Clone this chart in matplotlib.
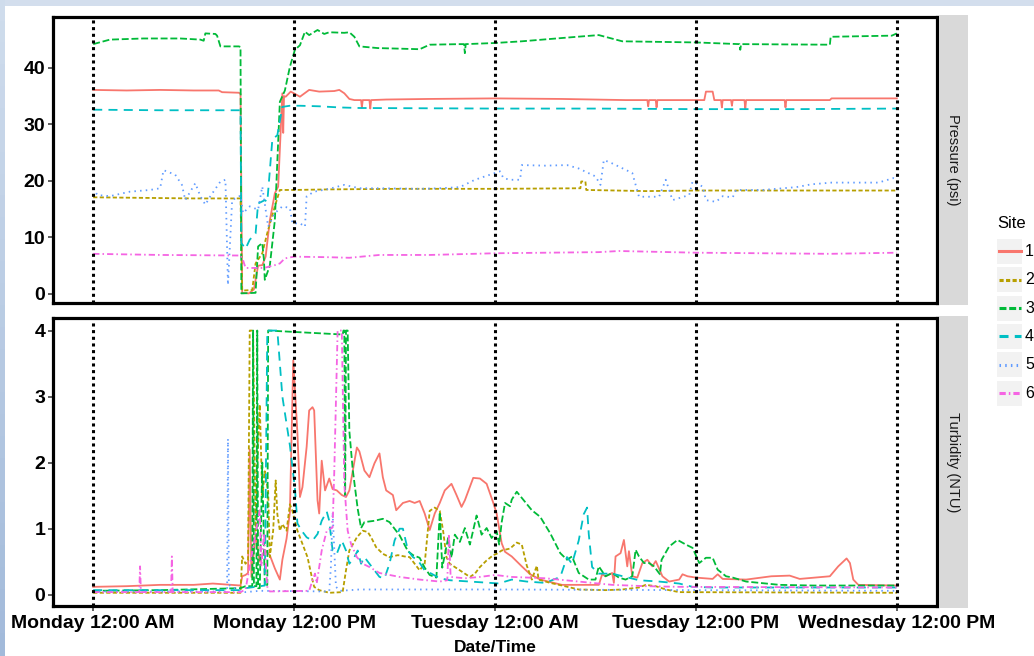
import matplotlib
matplotlib.use('Agg')
import matplotlib.pyplot as plt
from matplotlib.patches import Rectangle
from matplotlib.lines import Line2D

plt.rcParams['font.family'] = ['Liberation Sans', 'DejaVu Sans']
plt.rcParams['lines.scale_dashes'] = False

# ---------------- data (hours since Monday 12:00 AM) ----------------
sites = ['1', '2', '3', '4', '5', '6']
tick_hours = [0, 12, 24, 36, 48]
tick_labels = ['Monday 12:00 AM', 'Monday 12:00 PM', 'Tuesday 12:00 AM',
               'Tuesday 12:00 PM', 'Wednesday 12:00 PM']
pressure_ticks = [0, 10, 20, 30, 40]
turbidity_ticks = [0, 1, 2, 3, 4]

# Pressure (psi)
p1_t = [0, 2, 4, 6, 7.5, 7.7, 8.7, 8.8, 8.9, 9.3, 9.6, 9.85, 10.1, 10.3, 10.55,
        10.85, 11.05, 11.3, 11.35, 11.4, 11.5, 11.8, 12.35, 12.9, 13.5, 14.4, 14.7,
        15.0, 15.3, 15.6, 16.0, 16.05, 16.1, 16.5, 16.55, 16.6, 17.5, 20, 24, 28,
        31.8, 33.1, 33.15, 33.2, 33.6, 33.65, 33.7, 36.5, 36.6, 37.0, 37.1, 37.5,
        37.55, 37.6, 38.1, 38.15, 38.2, 38.9, 38.95, 39.0, 41.3, 41.35, 41.4, 44.0,
        44.1, 48]
p1_v = [36.1, 36.0, 36.1, 36.0, 36.0, 35.7, 35.6, 35.4, 0.2, 0.1, 0.8, 5.0, 5.1, 6.6, 13.0,
        17.8, 19.0, 35.5, 28.5, 35.0, 34.9, 35.8, 34.9, 36.1, 35.8, 35.9, 36.1,
        35.5, 34.5, 34.3, 34.3, 33.0, 34.3, 34.3, 32.8, 34.3, 34.4, 34.5, 34.6, 34.5,
        34.3, 34.3, 33.2, 34.3, 34.3, 33.0, 34.3, 34.3, 35.8, 35.8, 34.3, 34.3,
        33.0, 34.3, 34.3, 33.3, 34.3, 34.3, 32.8, 34.3, 34.3, 33.0, 34.3, 34.3,
        34.6, 34.6]

p2_t = [0, 3, 6, 8.8, 8.9, 9.5, 9.7, 10.1, 10.4, 10.85, 11.15, 12, 14.1, 18.3, 24,
        29.1, 29.15, 29.4, 29.45, 33.0, 36, 42, 48]
p2_v = [17.1, 17.0, 16.9, 16.9, 0.6, 0.7, 5.4, 7.2, 10.8, 15.5, 18.4, 18.4, 18.5, 18.6, 18.6,
        18.7, 19.9, 19.9, 18.4, 18.2, 18.3, 18.3, 18.3]

p3_t = [0, 0.5, 1.0, 3.0, 5.2, 6.4, 6.6, 6.7, 7.3, 7.4, 7.6, 8.7, 8.8, 8.85, 9.7,
        9.85, 10.1, 10.2, 10.25, 10.55, 10.85, 11.15, 11.45, 11.75, 12.05, 12.35,
        12.65, 12.9, 13.4, 13.8, 14.1, 15.0, 15.3, 15.6, 15.9, 17.0, 18.3, 19.5,
        20.1, 21.9, 22.15, 22.2, 22.25, 24.0, 25.6, 28.9, 30.2, 31.6, 36.0, 38.6,
        38.65, 38.7, 44.0, 44.05, 47.7, 48.0]
p3_v = [44.2, 44.6, 45.0, 45.2, 45.2, 45.0, 44.8, 46.1, 46.0, 45.7, 43.8, 43.8, 43.7, 0.1, 0.2,
        8.4, 9.0, 6.0, 2.5, 5.0, 13.0, 34.0, 36.0, 40.2, 43.2, 44.0,
        46.4, 45.8, 46.7, 46.0, 46.3, 46.2, 46.3, 45.5, 43.8, 43.5, 43.4, 43.3,
        44.1, 44.2, 44.2, 42.6, 44.2, 44.4, 44.7, 45.5, 45.8, 44.7, 44.5, 44.2,
        43.2, 44.2, 44.1, 45.5, 45.7, 46.1]

p4_t = [0, 4, 8.8, 8.85, 9.1, 9.35, 9.7, 9.85, 10.25, 10.4, 10.7, 11.0, 11.3, 11.75,
        12.35, 13.5, 14.7, 15.9, 24, 30, 36, 42, 48]
p4_v = [32.6, 32.5, 32.5, 9.0, 8.0, 9.6, 10.7, 16.0, 16.6, 16.3, 27.3, 28.1, 33.1, 33.3,
        33.3, 33.2, 33.0, 32.9, 32.8, 32.8, 32.7, 32.7, 32.8]

p5_t = [0, 0.25, 1.0, 2.2, 3.4, 4.0, 4.2, 4.9, 5.3, 5.5, 6.1, 6.4, 6.7, 7.0, 7.6,
        7.9, 8.05, 8.3, 8.8, 8.95, 9.35, 9.85, 10.1, 10.45, 10.85, 11.3, 11.75, 11.9,
        12.35, 12.65, 12.75, 13.2, 14.1, 15.0, 15.9, 17.1, 19.5, 20.7, 21.9, 22.8,
        23.7, 24.3, 24.5, 24.9, 25.5, 25.6, 27.0, 28.3, 29.0, 30.0, 30.3, 30.5, 31.0,
        32.2, 32.6, 33.8, 34.2, 34.6, 35.6, 35.8, 36.4, 36.6, 37.2, 37.6, 38.2, 38.4,
        40.0, 42.0, 42.9, 44.1, 46.9, 47.8, 48.0]
p5_v = [18.7, 17.5, 17.3, 18.1, 18.4, 18.7, 21.9, 21.1, 19.3, 16.6, 19.6, 17.3, 15.8, 17.3, 19.9,
        20.2, 1.6, 16.6, 17.4, 14.3, 15.5, 14.9, 19.0, 11.9, 14.3, 15.5, 15.2, 12.5,
        12.5, 11.9, 17.3, 18.1, 18.6, 19.3, 18.7, 18.7, 18.6, 18.7, 18.9, 20.2,
        21.1, 21.7, 20.5, 20.2, 20.2, 22.8, 22.7, 22.8, 22.2, 20.8, 19.3, 23.7, 23.1,
        21.4, 17.2, 17.2, 20.2, 16.6, 17.5, 19.9, 19.0, 16.6, 16.3, 17.3, 17.1, 18.4,
        18.4, 18.9, 19.4, 19.7, 19.7, 20.5, 20.3]

p6_t = [0, 4, 8.8, 8.95, 9.1, 10.2, 10.85, 11.15, 11.45, 12.0, 14.1, 15.3, 17.1, 20.1,
        24, 30.2, 31.4, 36, 44, 48]
p6_v = [7.1, 6.9, 6.8, 6.0, 4.6, 4.6, 5.1, 5.4, 6.3, 6.6, 6.5, 6.4, 6.9, 6.9,
        7.2, 7.4, 7.6, 7.3, 7.1, 7.3]

# Turbidity (NTU)
t1_t = [0, 2, 4, 6, 7.15, 8.8, 8.9, 9.1, 9.25, 9.35,
        9.45, 9.7, 9.95, 10.25, 10.55, 10.85, 11.15, 11.3, 11.55, 11.75,
        11.95, 12.2, 12.35, 12.5, 12.75, 12.9, 13.1, 13.2, 13.4, 13.5,
        13.65, 13.85, 14.1, 14.3, 14.55, 14.85, 15.1, 15.3, 15.75, 15.9,
        16.2, 16.5, 16.8, 17.1, 17.3, 17.5, 17.9, 18.1, 18.5, 18.9,
        19.2, 19.5, 19.8, 20.1, 20.4, 20.7, 21.0, 21.4, 21.7, 22.0,
        22.2, 22.7, 23.1, 23.5, 23.9, 24.1, 24.4, 24.6, 25.0, 25.6,
        26.1, 26.7, 28.0, 30.2, 30.4, 30.6, 31.0, 31.1, 31.2, 31.5,
        31.7, 31.8, 31.9, 32.0, 32.2, 32.5, 32.8, 33.1, 33.4, 33.6,
        34.0, 34.4, 35.0, 35.2, 35.5, 36.0, 37.0, 37.3, 37.6, 39.0,
        40.5, 41.6, 42.2, 44.0, 44.5, 45.0, 45.2, 45.4, 45.7, 48.0]
t1_v = [0.12, 0.13, 0.15, 0.15, 0.17, 0.14, 0.28, 0.30, 0.33, 2.20,
        0.27, 0.93, 0.50, 0.68, 0.60, 0.40, 0.23, 0.53, 0.85, 1.25,
        3.55, 2.44, 1.48, 1.63, 2.24, 2.79, 2.84, 2.79, 1.43, 1.23,
        2.03, 1.58, 1.76, 1.60, 1.58, 1.51, 1.48, 1.58, 2.23, 2.17,
        1.88, 1.78, 1.99, 2.14, 1.78, 1.58, 1.51, 1.28, 1.39, 1.42,
        1.39, 1.42, 1.23, 0.98, 1.23, 1.39, 1.58, 1.68, 1.51, 1.33,
        1.43, 1.77, 1.76, 1.68, 1.39, 1.23, 0.78, 0.65, 0.58, 0.43,
        0.31, 0.23, 0.15, 0.15, 0.31, 0.28, 0.33, 0.18, 0.58, 0.63,
        0.83, 0.63, 0.43, 0.66, 0.28, 0.26, 0.48, 0.53, 0.43, 0.51,
        0.28, 0.20, 0.23, 0.31, 0.28, 0.26, 0.24, 0.31, 0.24, 0.23,
        0.28, 0.29, 0.24, 0.28, 0.43, 0.55, 0.48, 0.23, 0.15, 0.14]

t2_t = [0, 4, 8.8, 8.9, 9.1, 9.25, 9.35, 9.55, 9.7, 9.8,
        9.95, 10.1, 10.25, 10.45, 10.55, 10.75, 10.9, 11.0, 11.15, 11.3,
        11.55, 11.75, 11.9, 12.2, 12.5, 12.8, 13.1, 13.2, 13.5, 14.1,
        14.9, 15.1, 15.3, 15.75, 16.1, 16.4, 16.6, 16.9, 17.3, 17.7,
        18.2, 18.6, 18.9, 19.2, 19.5, 19.8, 20.1, 20.4, 20.7, 20.9,
        21.1, 21.3, 21.6, 21.9, 22.2, 22.5, 22.8, 23.1, 23.5, 23.9,
        24.1, 24.4, 24.9, 25.3, 25.6, 25.9, 26.2, 26.5, 26.6, 27.3,
        28.0, 29.0, 30.6, 31.6, 32.6, 33.0, 33.6, 34.2, 35.0, 48.0]
t2_v = [0.03, 0.03, 0.03, 0.58, 0.47, 0.52, 4.00, 4.00, 0.97, 1.98,
        2.88, 1.47, 1.87, 1.57, 0.57, 0.97, 1.73, 1.22, 0.97, 1.07,
        0.97, 1.37, 1.27, 0.97, 0.77, 0.57, 0.22, 0.12, 0.07, 0.03,
        0.04, 0.37, 0.67, 0.87, 0.97, 0.95, 0.87, 0.72, 0.62, 0.57,
        0.60, 0.58, 0.57, 0.47, 0.37, 0.47, 1.27, 1.32, 1.27, 0.97,
        0.57, 0.47, 0.42, 0.37, 0.32, 0.27, 0.32, 0.42, 0.52, 0.60,
        0.62, 0.67, 0.70, 0.79, 0.76, 0.44, 0.23, 0.44, 0.23, 0.18,
        0.14, 0.08, 0.07, 0.08, 0.11, 0.15, 0.13, 0.08, 0.04, 0.03]

t3_t = [0, 4, 8.8, 9.1, 9.35, 9.5, 9.55, 9.6, 9.75, 9.8,
        9.85, 9.95, 10.1, 10.25, 10.4, 10.45, 14.9, 14.95, 15.0, 15.05,
        15.1, 15.15, 15.2, 15.3, 15.5, 15.8, 16.0, 16.2, 16.8, 17.3,
        17.7, 18.3, 18.8, 19.1, 19.5, 19.8, 20.1, 20.5, 20.7, 20.85,
        21.2, 21.4, 21.6, 21.9, 22.2, 22.5, 22.9, 23.2, 23.5, 23.8,
        24.1, 24.25, 24.4, 24.6, 24.9, 25.0, 25.3, 26.2, 26.7, 27.3,
        27.9, 28.3, 28.6, 29.0, 29.6, 30.0, 30.2, 30.6, 31.0, 31.4,
        31.8, 32.2, 32.4, 32.6, 32.9, 33.2, 33.5, 33.85, 33.95, 34.4,
        34.9, 35.4, 35.8, 36.2, 36.6, 37.0, 37.3, 37.8, 38.2, 39.0,
        41.0, 43.0, 45.0, 48.0]
t3_v = [0.06, 0.07, 0.10, 0.13, 0.13, 0.13, 4.00, 0.13, 0.13, 4.00,
        0.10, 0.10, 2.00, 0.13, 0.15, 4.00, 3.94, 4.00, 4.00, 1.50,
        4.00, 4.00, 4.00, 2.48, 1.90, 1.30, 1.01, 1.10, 1.12, 1.15,
        1.10, 0.90, 0.66, 0.60, 0.56, 0.41, 0.30, 0.26, 1.25, 0.41,
        0.86, 0.56, 0.91, 0.80, 1.01, 0.76, 1.20, 0.91, 1.01, 0.86,
        0.96, 0.76, 1.10, 1.39, 1.34, 1.44, 1.56, 1.28, 1.18, 0.93,
        0.63, 0.53, 0.58, 0.33, 0.23, 0.23, 0.43, 0.28, 0.33, 0.26,
        0.23, 0.28, 0.68, 0.58, 0.48, 0.48, 0.43, 0.31, 0.53, 0.73,
        0.83, 0.76, 0.71, 0.48, 0.56, 0.56, 0.38, 0.28, 0.26, 0.20,
        0.15, 0.14, 0.14, 0.14]

t4_t = [0, 4, 8.8, 9.1, 9.7, 10.25, 10.4, 11.0, 11.3, 11.75,
        12.05, 12.2, 12.45, 12.75, 13.1, 13.4, 13.65, 13.95, 14.1, 14.3,
        14.55, 14.85, 15.1, 15.3, 15.6, 15.8, 16.0, 16.2, 16.5, 16.8,
        17.1, 17.4, 17.7, 18.0, 18.3, 18.5, 18.8, 19.1, 19.4, 19.8,
        20.2, 20.7, 21.3, 22.5, 24.3, 24.6, 25.0, 25.9, 27.0, 27.9,
        28.3, 28.6, 29.0, 29.3, 29.5, 29.6, 29.8, 30.2, 31.0, 31.8,
        32.6, 33.8, 35.0, 35.8, 37.0, 48.0]
t4_v = [0.07, 0.07, 0.07, 0.10, 0.12, 0.14, 4.00, 4.00, 3.00, 2.26,
        1.61, 1.08, 0.97, 0.87, 0.82, 0.92, 1.12, 1.26, 1.12, 0.67,
        0.62, 0.82, 0.67, 0.47, 0.57, 0.67, 0.47, 0.57, 0.47, 0.37,
        0.27, 0.25, 0.47, 0.82, 1.00, 1.00, 0.67, 0.57, 0.52, 0.37,
        0.32, 0.25, 0.22, 0.20, 0.17, 0.20, 0.23, 0.20, 0.18, 0.27,
        0.57, 0.47, 0.82, 1.22, 1.32, 0.92, 0.42, 0.32, 0.32, 0.27,
        0.22, 0.20, 0.17, 0.12, 0.11, 0.11]

t5_t = [0, 4, 8.0, 8.05, 8.1, 8.45, 8.8, 9.1, 9.95, 14.1, 14.2, 14.3, 14.5, 14.75,
        15.9, 24, 36, 48]
t5_v = [0.05, 0.05, 0.05, 2.36, 0.15, 0.10, 0.06, 0.04, 0.06, 0.05, 0.43, 1.25, 0.12, 0.06,
        0.08, 0.08, 0.07, 0.06]

t6_t = [0, 2.75, 2.8, 2.85, 4.65, 4.7, 4.75, 8.8, 9.1, 9.95,
        10.05, 10.2, 10.4, 10.55, 12.9, 13.1, 13.25, 13.35, 13.65, 13.95,
        14.3, 14.4, 14.6, 14.85, 15.0, 15.2, 15.4, 15.75, 16.1, 16.5,
        17.1, 17.7, 18.3, 19.5, 20.7, 21.15, 21.25, 21.35, 22.2, 23.1,
        24.0, 25.0, 27.0, 29.0, 31.0, 33.0, 35.0, 48.0]
t6_v = [0.04, 0.04, 0.43, 0.04, 0.04, 0.58, 0.04, 0.04, 0.08, 1.28,
        0.43, 0.93, 0.12, 0.05, 0.06, 0.22, 0.32, 0.17, 0.67, 0.97,
        1.02, 1.87, 4.00, 4.00, 1.67, 0.97, 0.77, 0.57, 0.47, 0.42,
        0.33, 0.30, 0.27, 0.23, 0.20, 0.22, 0.92, 0.27, 0.25, 0.27,
        0.30, 0.27, 0.25, 0.20, 0.15, 0.13, 0.12, 0.11]

pressure = [(p1_t, p1_v), (p2_t, p2_v), (p3_t, p3_v), (p4_t, p4_v), (p5_t, p5_v), (p6_t, p6_v)]
turbidity = [(t1_t, t1_v), (t2_t, t2_v), (t3_t, t3_v), (t4_t, t4_v), (t5_t, t5_v), (t6_t, t6_v)]

# ---------------- styles ----------------
colors = ['#F8766D', '#B79F00', '#00BA38', '#00BFC4', '#619CFF', '#F564E3']
styles = ['-', (0, (3.0, 1.7)), (0, (5.0, 2.0)), (0, (6.5, 4.5)), (0, (1.1, 3.0)),
          (0, (4.5, 2.2, 1.1, 2.2))]
LW = 1.3

W, H = 1034, 656
def fx(px):
    return px / W
def fy(py):
    return 1 - py / H

fig = plt.figure(figsize=(W / 100, H / 100), dpi=100)
fig.patch.set_facecolor('white')

# slide frame (light blue border at top and left)
fig.patches.append(Rectangle((0, fy(6)), 1, 1 - fy(6), transform=fig.transFigure,
                             facecolor='#D3DEED', edgecolor='none', zorder=0))
nseg = 30
for i in range(nseg):
    f = i / (nseg - 1)
    c1 = (0xCF / 255, 0xDC / 255, 0xEC / 255)
    c2 = (0xA2 / 255, 0xBA / 255, 0xDA / 255)
    col = tuple(c1[k] + (c2[k] - c1[k]) * f for k in range(3))
    y0 = 1 - (i + 1) / nseg
    fig.patches.append(Rectangle((0, y0), fx(5), 1 / nseg + 0.002, transform=fig.transFigure,
                                 facecolor=col, edgecolor='none', zorder=0))

L, R = 53, 937
ax1 = fig.add_axes([fx(L), fy(303), fx(R) - fx(L), fy(17) - fy(303)])
ax2 = fig.add_axes([fx(L), fy(606), fx(R) - fx(L), fy(318) - fy(606)])

for ax, data in ((ax1, pressure), (ax2, turbidity)):
    for (t, v), c, ls in zip(data, colors, styles):
        ax.plot(t, v, color=c, linestyle=ls, lw=LW, solid_joinstyle='round')
    for h in tick_hours:
        ax.axvline(h, color='black', lw=2.2, linestyle=(0, (2.2, 2.6)),
                   dash_capstyle='butt', zorder=5)
    ax.set_xlim(-2.4, 50.4)
    for s in ax.spines.values():
        s.set_linewidth(2.3)
        s.set_color('black')
    ax.tick_params(axis='both', length=3.5, width=1.1, color='#333333',
                   labelsize=14, pad=2, labelcolor='black')

ax1.set_ylim(-1.6, 49.0)
ax1.set_yticks(pressure_ticks)
ax1.set_yticklabels([str(v) for v in pressure_ticks], fontweight='bold')
ax1.set_xticks(tick_hours)
ax1.tick_params(axis='x', bottom=False, labelbottom=False)

ax2.set_ylim(-0.17, 4.19)
ax2.set_yticks(turbidity_ticks)
ax2.set_yticklabels([str(v) for v in turbidity_ticks], fontweight='bold')
ax2.set_xticks(tick_hours)
ax2.set_xticklabels(tick_labels, fontweight='bold')
ax2.tick_params(axis='x', pad=3)
ax2.set_xlabel('Date/Time', fontsize=12.5, fontweight='bold', labelpad=6)

# facet strips
for (top, bot, label) in ((15, 305, 'Pressure (psi)'), (316, 608, 'Turbidity (NTU)')):
    fig.patches.append(Rectangle((fx(939), fy(bot)), fx(968) - fx(939), fy(top) - fy(bot),
                                 transform=fig.transFigure, facecolor='#D9D9D9',
                                 edgecolor='none', zorder=1))
    fig.text(fx(953.5), fy((top + bot) / 2), label, rotation=270, ha='center', va='center',
             fontsize=10.5, color='#1A1A1A')

# legend (manual, matching ggplot guide)
fig.text(fx(997), fy(223), 'Site', ha='left', va='center', fontsize=12, color='black')
for i, (s, c, ls) in enumerate(zip(sites, colors, styles)):
    top = 239 + 28.3 * i
    fig.patches.append(Rectangle((fx(997), fy(top + 25)), fx(1022) - fx(997), fy(top) - fy(top + 25),
                                 transform=fig.transFigure, facecolor='#F2F2F2',
                                 edgecolor='none', zorder=1))
    ym = fy(top + 12.5)
    fig.lines.append(Line2D([fx(998.5), fx(1020.5)], [ym, ym], transform=fig.transFigure,
                            color=c, linestyle=ls, lw=2.2, zorder=2))
    fig.text(fx(1025), ym, s, ha='left', va='center', fontsize=11.5, color='black')

fig.savefig('out.png', dpi=100, facecolor='white')
